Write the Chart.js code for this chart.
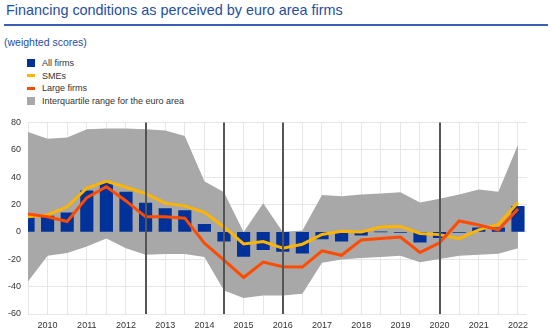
<!DOCTYPE html>
<html lang="en">
<head>
<meta charset="UTF-8">
<title>Financing conditions</title>
<script src="https://cdn.jsdelivr.net/npm/chart.js@4.4.1/dist/chart.umd.min.js"></script>
<style>
    body { margin: 0; width: 552px; height: 332px; background: #fff; font-family: "Liberation Sans", Arial, sans-serif; position: relative; overflow: hidden; }
    .title { position: absolute; left: 6px; top: 2px; font-size: 14.4px; color: #1f4ea1; white-space: nowrap; }
    .rule { position: absolute; left: 4px; top: 24px; width: 544px; height: 2px; background: #3a60b3; }
    .subtitle { position: absolute; left: 4px; top: 36px; font-size: 10.5px; color: #1f4ea1; }
    #legend { position: absolute; left: 27px; top: 57px; font-size: 9px; color: #333; }
    #legend div { height: 12.6px; line-height: 12.6px; display: flex; align-items: center; }
    #legend span.mark { display: inline-block; width: 8px; margin-right: 7px; }
    .wrap { position: absolute; left: 0; top: 110px; width: 552px; height: 222px; }
</style>
</head>
<body>
<div class="title">Financing conditions as perceived by euro area firms</div>
<div class="rule"></div>
<div class="subtitle">(weighted scores)</div>
<div id="legend"></div>
<div class="wrap"><canvas id="chart"></canvas></div>

<script>
    // half-year survey rounds (year + 0.5 = second half)
    const periods = [2009.5, 2010, 2010.5, 2011, 2011.5, 2012, 2012.5, 2013, 2013.5, 2014, 2014.5, 2015, 2015.5,
                     2016, 2016.5, 2017, 2017.5, 2018, 2018.5, 2019, 2019.5, 2020, 2020.5, 2021, 2021.5, 2022];
    const allFirms = [11, 11.5, 14, 30, 36, 29, 21, 17, 15.5, 5.5, -6.7, -18, -13, -14.3, -15.5, -5.2, -6.7, -2.4,
                      0, -0.3, -7.6, -4.3, -0.3, 3, 3, 18.6];
    const smes = [11, 12.4, 18.3, 32, 37, 32.6, 28, 21, 19, 14.3, 3.6, -8.8, -7.1, -11.9, -9, -1.9, 0.5, 0,
                  3.6, 4, -1.2, -2, -5, 1.5, 5.5, 21.5];
    const largeFirms = [13, 11, 7.6, 25, 33, 22.6, 11, 11, 10, -8.3, -20.7, -33.3, -22.1, -25.5, -25.7, -13.8, -17.1,
                        -5.9, -4.8, -3.8, -15, -8, 8, 5, 1.5, 16.7];
    const iqrUpper = [73, 68, 69, 75, 75.5, 75.5, 75, 74, 70, 37, 29, 0, 21, 0, 1, 27, 26, 27.4, 28, 29, 21.4,
                      24.3, 27.4, 31, 29.3, 63.6];
    const iqrLower = [-36.2, -17.4, -15.5, -10.7, -4.8, -11.9, -16.7, -16.2, -16.2, -18.3, -42.9, -48.3, -46.4,
                      -46.4, -45.2, -22.6, -20.2, -19, -18.3, -17.4, -22.1, -19.8, -17.4, -16.7, -16, -11.9];
    // survey breaks marked by the dark vertical lines
    const breaks = [2012.5, 2014.5, 2016, 2020];

    const blue = '#003299', yellow = '#ffb400', orange = '#ff4b00', grey = '#a8a8a8';

    function pts(values) {
        return values.map((v, i) => ({ x: periods[i], y: v }));
    }

    const breakLines = {
        id: 'breakLines',
        afterDatasetsDraw(chart) {
            const ctx = chart.ctx, area = chart.chartArea, xs = chart.scales.x;
            ctx.save();
            ctx.strokeStyle = '#555';
            ctx.lineWidth = 2;
            breaks.forEach(b => {
                const px = Math.round(xs.getPixelForValue(b));
                ctx.beginPath();
                ctx.moveTo(px, area.top);
                ctx.lineTo(px, area.bottom);
                ctx.stroke();
            });
            ctx.restore();
        }
    };

    const tickFont = { family: '"Liberation Sans", Arial, sans-serif', size: 9 };

    const chart = new Chart(document.getElementById('chart'), {
        data: {
            datasets: [
                { type: 'line', label: 'iqr-lower', data: pts(iqrLower), borderWidth: 0, pointRadius: 0,
                  fill: false, order: 5 },
                { type: 'line', label: 'Interquartile range for the euro area', data: pts(iqrUpper), borderWidth: 0,
                  pointRadius: 0, backgroundColor: grey, fill: '-1', order: 4 },
                { type: 'bar', label: 'All firms', data: pts(allFirms), backgroundColor: blue,
                  barThickness: 12.5, order: 3 },
                { type: 'line', label: 'SMEs', data: pts(smes), borderColor: yellow, borderWidth: 3,
                  pointRadius: 0, tension: 0, order: 2 },
                { type: 'line', label: 'Large firms', data: pts(largeFirms), borderColor: orange, borderWidth: 3,
                  pointRadius: 0, tension: 0, order: 1 }
            ]
        },
        options: {
            responsive: true,
            maintainAspectRatio: false,
            animation: false,
            layout: { padding: { top: 3.6, right: 25, left: 0, bottom: 0 } },
            plugins: { legend: { display: false }, tooltip: { enabled: false } },
            scales: {
                x: {
                    type: 'linear',
                    min: 2009.5,
                    max: 2022.23,
                    offset: false,
                    border: { display: false },
                    grid: { color: '#e6e6e6', drawTicks: false, offset: false },
                    ticks: {
                        stepSize: 0.5, includeBounds: false, autoSkip: false, maxRotation: 0,
                        padding: 6, color: '#333', font: tickFont,
                        callback: v => (v % 1 === 0 ? String(v) : '')
                    },
                    afterFit: s => { s.height = 18; }
                },
                y: {
                    min: -60,
                    max: 80,
                    border: { display: false },
                    grid: { color: '#e6e6e6', drawTicks: false },
                    ticks: { stepSize: 20, padding: 7, color: '#333', font: tickFont },
                    afterFit: s => { s.width = 28; }
                }
            }
        },
        plugins: [breakLines]
    });

    // legend, built from the chart's datasets
    const legendOrder = ['All firms', 'SMEs', 'Large firms', 'Interquartile range for the euro area'];
    const legendEl = document.getElementById('legend');
    legendOrder.forEach(name => {
        const ds = chart.data.datasets.find(d => d.label === name);
        const isLine = ds.type === 'line' && ds.borderWidth > 0;
        const row = document.createElement('div');
        const mark = document.createElement('span');
        mark.className = 'mark';
        mark.style.height = isLine ? '3px' : '8px';
        mark.style.background = isLine ? ds.borderColor : ds.backgroundColor;
        row.appendChild(mark);
        row.appendChild(document.createTextNode(name));
        legendEl.appendChild(row);
    });
</script>
</body>
</html>
